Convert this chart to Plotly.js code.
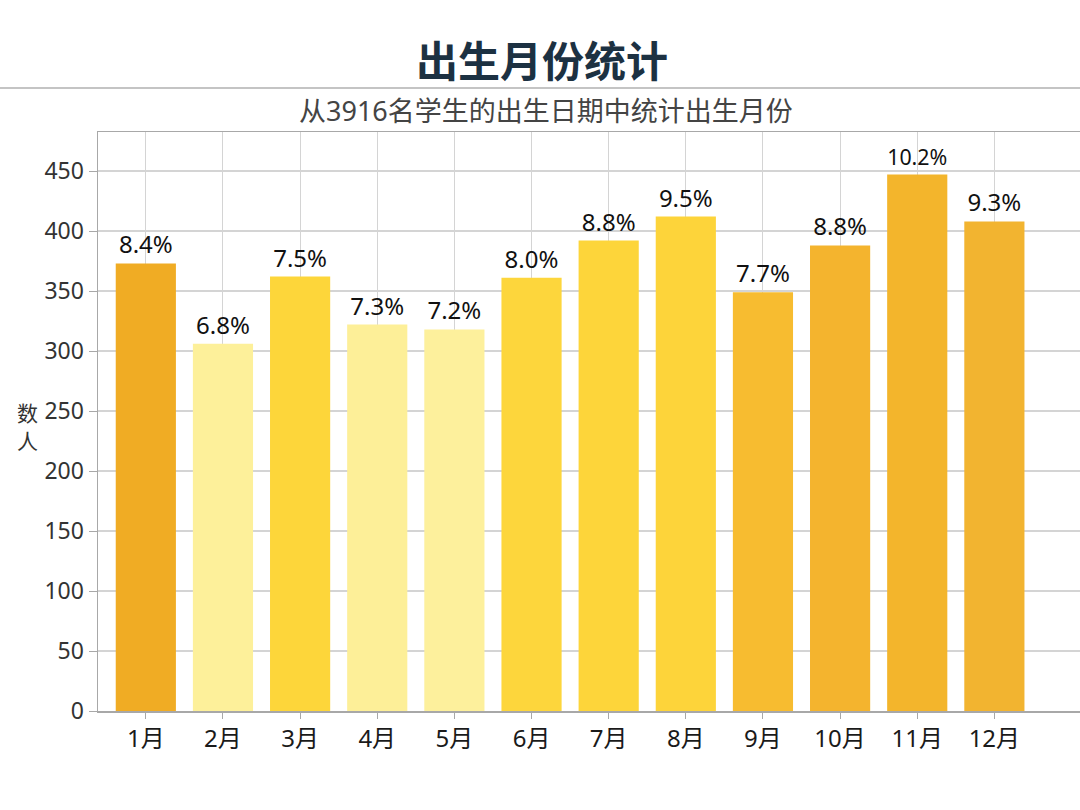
<!DOCTYPE html>
<html>
<head>
<meta charset="utf-8">
<script src="https://cdn.plot.ly/plotly-3.0.1.min.js"></script>
<style>
  html, body { margin: 0; padding: 0; background: #fff; }
  #chart { width: 1080px; height: 810px; }
</style>
</head>
<body>
<div id="chart"></div>
<script>
  var months = ["1月", "2月", "3月", "4月", "5月", "6月", "7月", "8月", "9月", "10月", "11月", "12月"];
  var counts = [373, 306, 362, 322, 318, 361, 392, 412, 349, 388, 447, 408];
  var shares = ["8.4%", "6.8%", "7.5%", "7.3%", "7.2%", "8.0%", "8.8%", "9.5%", "7.7%", "8.8%", "10.2%", "9.3%"];
  var barColors = ["#f0ac24", "#fdf09a", "#fdd63a", "#fdef98", "#fdf09c", "#fdd63c",
                   "#fdd53a", "#fdd43a", "#f7bc30", "#f4b42e", "#f3b52c", "#f2b430"];

  var font = '"Noto Sans", "Noto Sans CJK SC", sans-serif';

  function px(x) { return (x - 98) / 982; }
  function py(y) { return (711 - y) / 579; }

  Plotly.newPlot("chart", [{
    type: "bar",
    x: months,
    y: counts,
    text: shares,
    textposition: "outside",
    cliponaxis: false,
    textfont: { family: font, size: 24, color: "#111" },
    marker: { color: barColors, line: { width: 0 } },
    hoverinfo: "x+y"
  }], {
    width: 1080,
    height: 810,
    margin: { l: 98, r: 0, t: 132, b: 99 },
    paper_bgcolor: "#fff",
    plot_bgcolor: "#fff",
    font: { family: font, size: 22, color: "#333" },
    bargap: 0.22,
    showlegend: false,
    xaxis: {
      type: "category",
      range: [-0.62, 12.11],
      showgrid: true,
      gridcolor: "#d4d4d4",
      gridwidth: 1,
      showline: true,
      linecolor: "#a8a8a8",
      linewidth: 1.5,
      mirror: true,
      ticks: "outside",
      ticklen: 6,
      tickcolor: "#a8a8a8",
      tickfont: { family: font, size: 24, color: "#1a1a1a" },
      fixedrange: true
    },
    yaxis: {
      range: [0, 482.5],
      tickvals: [0, 50, 100, 150, 200, 250, 300, 350, 400, 450],
      showgrid: true,
      gridcolor: "#d4d4d4",
      gridwidth: 1.5,
      zeroline: false,
      showline: true,
      linecolor: "#a8a8a8",
      linewidth: 1.5,
      ticks: "outside",
      ticklen: 8,
      tickcolor: "#a8a8a8",
      tickfont: { family: font, size: 23, color: "#333" },
      fixedrange: true
    },
    shapes: [{
      type: "line", xref: "paper", yref: "paper",
      x0: -0.1, x1: 1, y0: py(88), y1: py(88),
      line: { color: "#b0b0b0", width: 1.5 }
    }],
    annotations: [{
      text: "<b>出生月份统计</b>",
      xref: "paper", yref: "paper",
      x: px(542), y: py(60),
      xanchor: "center", yanchor: "middle", showarrow: false,
      font: { family: font, size: 42, color: "#1c3142" }
    }, {
      text: "从3916名学生的出生日期中统计出生月份",
      xref: "paper", yref: "paper",
      x: px(546), y: py(110),
      xanchor: "center", yanchor: "middle", showarrow: false,
      font: { family: font, size: 27, color: "#444" }
    }, {
      text: "数",
      xref: "paper", yref: "paper",
      x: px(27), y: py(413),
      xanchor: "center", yanchor: "middle", showarrow: false,
      font: { family: font, size: 21, color: "#333" }
    }, {
      text: "人",
      xref: "paper", yref: "paper",
      x: px(27), y: py(441),
      xanchor: "center", yanchor: "middle", showarrow: false,
      font: { family: font, size: 21, color: "#333" }
    }]
  }, { displayModeBar: false, staticPlot: true });
</script>
</body>
</html>
